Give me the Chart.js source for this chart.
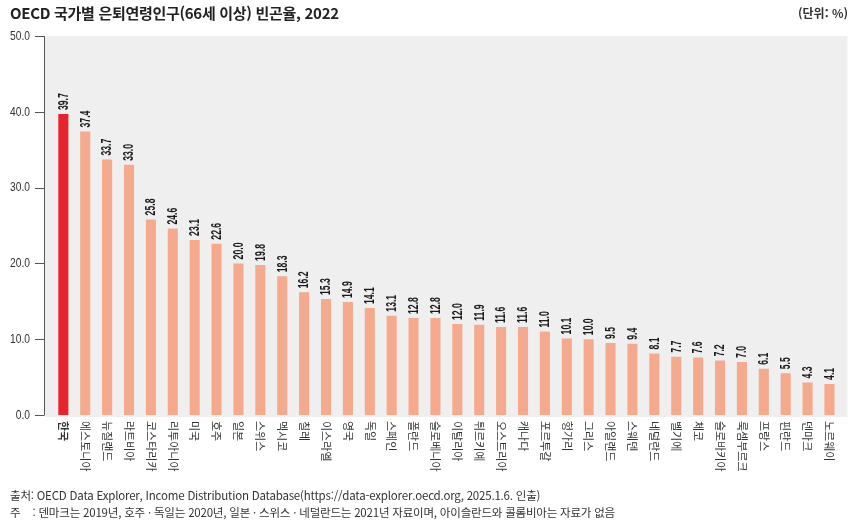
<!DOCTYPE html>
<html lang="ko">
<head>
<meta charset="utf-8">
<script src="https://cdn.jsdelivr.net/npm/chart.js@4.4.1/dist/chart.umd.min.js"></script>
<style>
  html, body { margin: 0; padding: 0; background: #fff; }
  .wrap { position: relative; width: 860px; height: 525px; font-family: "Noto Sans CJK KR", sans-serif; color: #222; }
  .wrap canvas { position: absolute; left: 0; top: 0; }
  .title { position: absolute; left: 10px; top: 2px; font-size: 15px; font-weight: 700; letter-spacing: -0.3px; }
  .unit { position: absolute; right: 12px; top: 4px; font-size: 12px; font-weight: 700; color: #333; }
  .note { position: absolute; left: 10px; font-size: 11.5px; color: #333; white-space: nowrap; letter-spacing: -0.2px; }
</style>
</head>
<body>
<div class="wrap">
  <canvas id="povertyChart" width="860" height="525"></canvas>
  <div class="title">OECD 국가별 은퇴연령인구(66세 이상) 빈곤율, 2022</div>
  <div class="unit">(단위: %)</div>
  <div class="note" style="top:487px">출처: OECD Data Explorer, Income Distribution Database(https://data-explorer.oecd.org, 2025.1.6. 인출)</div>
  <div class="note" style="top:504px">주&nbsp;&nbsp;&nbsp;&nbsp;: 덴마크는 2019년, 호주 · 독일는 2020년, 일본 · 스위스 · 네덜란드는 2021년 자료이며, 아이슬란드와 콜롬비아는 자료가 없음</div>
</div>
<script>
const countries = [
  "한국", "에스토니아", "뉴질랜드", "라트비아", "코스타리카", "리투아니아",
  "미국", "호주", "일본", "스위스", "멕시코", "칠레",
  "이스라엘", "영국", "독일", "스페인", "폴란드", "슬로베니아",
  "이탈리아", "튀르키예", "오스트리아", "캐나다", "포르투갈", "헝가리",
  "그리스", "아일랜드", "스웨덴", "네덜란드", "벨기에", "체코",
  "슬로바키아", "룩셈부르크", "프랑스", "핀란드", "덴마크", "노르웨이",
];
const povertyRate = [
  39.7, 37.4, 33.7, 33.0, 25.8, 24.6,
  23.1, 22.6, 20.0, 19.8, 18.3, 16.2,
  15.3, 14.9, 14.1, 13.1, 12.8, 12.8,
  12.0, 11.9, 11.6, 11.6, 11.0, 10.1,
  10.0, 9.5, 9.4, 8.1, 7.7, 7.6,
  7.2, 7.0, 6.1, 5.5, 4.3, 4.1,
];
const yTicks = [0, 10, 20, 30, 40, 50];

const numFont = '"Liberation Sans Narrow", "Liberation Sans", sans-serif';

// grey plot background, axis line, value labels and vertical country names
const decorPlugin = {
  id: "decor",
  beforeDatasetsDraw(chart) {
    const { ctx, chartArea } = chart;
    ctx.save();
    ctx.fillStyle = "#efefef";
    ctx.fillRect(45, chartArea.top, chartArea.right + 7 - 45, chartArea.bottom - chartArea.top + 2);
    ctx.restore();
  },
  afterDatasetsDraw(chart) {
    const { ctx, chartArea, scales } = chart;
    const x = scales.x;
    const y = scales.y;
    ctx.save();
    ctx.strokeStyle = "#555";
    ctx.lineWidth = 1;
    ctx.beginPath();
    ctx.moveTo(44.5, y.getPixelForValue(50));
    ctx.lineTo(44.5, y.getPixelForValue(0));
    yTicks.forEach((t) => {
      const py = Math.round(y.getPixelForValue(t)) + 0.5;
      ctx.moveTo(35, py);
      ctx.lineTo(44.5, py);
    });
    ctx.stroke();

    // y tick labels, condensed
    yTicks.forEach((t) => {
      ctx.save();
      ctx.translate(30, y.getPixelForValue(t));
      ctx.scale(0.76, 1);
      ctx.font = "13.5px " + numFont;
      ctx.fillStyle = "#333";
      ctx.textAlign = "right";
      ctx.textBaseline = "middle";
      ctx.fillText(t.toFixed(1), 0, 0);
      ctx.restore();
    });

    const meta = chart.getDatasetMeta(0);
    meta.data.forEach((bar, i) => {
      // value above the bar, reading bottom to top
      ctx.save();
      ctx.translate(bar.x, bar.y - 4);
      ctx.rotate(-Math.PI / 2);
      ctx.scale(0.62, 1);
      ctx.font = "bold 14px " + numFont;
      ctx.fillStyle = "#1a1a1a";
      ctx.textAlign = "left";
      ctx.textBaseline = "middle";
      ctx.fillText(povertyRate[i].toFixed(1), 0, 0.5);
      ctx.restore();

      // country name below the axis, reading top to bottom
      ctx.save();
      ctx.translate(x.getPixelForValue(i), chartArea.bottom + 6);
      ctx.rotate(Math.PI / 2);
      ctx.font = (i === 0 ? "bold " : "") + '11px "Noto Sans CJK KR", sans-serif';
      ctx.fillStyle = "#333";
      ctx.textAlign = "left";
      ctx.textBaseline = "middle";
      ctx.fillText(countries[i], 0, 0);
      ctx.restore();
    });
    ctx.restore();
  },
};

const barColors = countries.map((c) => (c === "한국" ? "#e8232b" : "#f5a98d"));

const ctx = document.getElementById("povertyChart").getContext("2d");
const povertyChart = new Chart(ctx, {
  type: "bar",
  data: {
    labels: countries,
    datasets: [
      {
        label: "빈곤율",
        data: povertyRate,
        backgroundColor: barColors,
        borderWidth: 0,
        barPercentage: 0.46,
        categoryPercentage: 1,
      },
    ],
  },
  options: {
    responsive: false,
    animation: false,
    layout: {
      padding: { top: 36, bottom: 110, left: 0, right: 19.6 },
    },
    scales: {
      x: {
        display: false,
      },
      y: {
        min: 0,
        max: 50,
        afterFit(scale) {
          scale.width = 52.4;
        },
        afterBuildTicks(scale) {
          scale.ticks = yTicks.map((v) => ({ value: v }));
        },
        grid: { display: false, drawTicks: false },
        border: { display: false },
        ticks: { display: false },
      },
    },
    plugins: {
      legend: { display: false },
      tooltip: { enabled: false },
    },
  },
  plugins: [decorPlugin],
});
</script>
</body>
</html>
